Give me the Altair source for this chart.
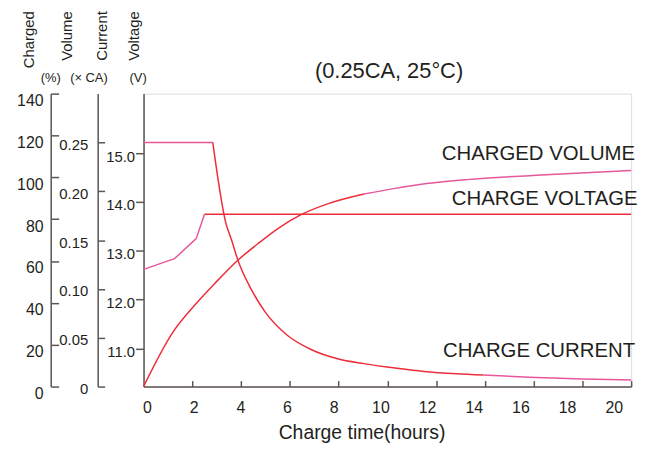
import altair as alt
import pandas as pd

# ---------------- data ----------------
# Charge current (x CA) vs time (hours)
cur_t = [0, 2.84, 3.07, 3.35, 3.61, 3.89, 4.43, 4.97, 5.92, 6.87, 7.96, 9.04,
         10.4, 11.5, 12.84, 13.93, 15.82, 18.0, 20.0]
cur_v = [0.25, 0.25, 0.21, 0.17, 0.150, 0.128, 0.099, 0.077, 0.052, 0.038,
         0.0285, 0.0235, 0.0187, 0.0155, 0.0131, 0.0118, 0.0096, 0.0078, 0.0068]
cur_breaks = [2.84, 13.93]
cur_cols = ["pink", "red", "pink"]

# Charged volume (%) vs time
chg_t = [0, 1.24, 2.06, 2.94, 3.89, 4.77, 5.51, 6.4, 7.55, 9.04, 10.26, 11.62,
         13.25, 16.1, 20.0]
chg_v = [0, 26.6, 38.4, 49.5, 60.6, 69.0, 75.5, 81.8, 87.3, 92.0, 94.6, 97.0,
         98.9, 101.0, 103.3]
chg_breaks = [9.04]
chg_cols = ["red", "pink"]

# Charge voltage (V) vs time
vol_t = [0, 1.27, 2.16, 2.50, 20.0]
vol_v = [12.62, 12.84, 13.25, 13.75, 13.75]
vol_breaks = [2.50]
vol_cols = ["pink", "red"]

x_ticks = [2, 4, 6, 8, 10, 12, 14, 16, 18, 20]
x_labels = [0, 2, 4, 6, 8, 10, 12, 14, 16, 18, 20]
chg_ticks = [0, 20, 40, 60, 80, 100, 120, 140]
cur_ticks = [0, 0.05, 0.10, 0.15, 0.20, 0.25]
vol_ticks = [11, 12, 13, 14, 15]

title_text = "(0.25CA, 25\u00b0C)"
curve_names = ["CHARGED VOLUME", "CHARGE VOLTAGE", "CHARGE CURRENT"]
unit_names = ["(%)", "(\u00d7 CA)", "(V)"]

PINK = "#e8579c"
RED = "#ee2d3b"
TXT = "#231f20"
AX = "#5b5553"
FONT = "Liberation Sans"


def segments(ts, vs, breaks, cols, name):
    rows = []
    edges = [ts[0]] + breaks + [ts[-1]]
    for i in range(len(edges) - 1):
        lo, hi = edges[i], edges[i + 1]
        for t, v in zip(ts, vs):
            if lo <= t <= hi:
                rows.append({"t": t, "v": v, "seg": f"{name}{i}", "col": cols[i]})
    return pd.DataFrame(rows)


df_cur = segments(cur_t, cur_v, cur_breaks, cur_cols, "cur")
df_chg = segments(chg_t, chg_v, chg_breaks, chg_cols, "chg")
df_vol = segments(vol_t, vol_v, vol_breaks, vol_cols, "vol")

color = alt.Color("col:N", scale=alt.Scale(domain=["pink", "red"], range=[PINK, RED]),
                  legend=None)
xs = alt.Scale(domain=[0, 20], nice=False, zero=False)

common_axis = dict(grid=False, domainColor=AX, tickColor=AX, domainWidth=1.5,
                   tickWidth=1.5, labelColor=TXT, labelFont=FONT, titleFont=FONT,
                   titleColor=TXT, titleFontWeight="normal")

TY = -83.5  # top of the rotated axis titles, relative to plot top

x_tick_axis = alt.Axis(orient="top", offset=-295, values=x_ticks, tickSize=6,
                       labels=False, title=None, **common_axis)

chg_line = alt.Chart(df_chg).mark_line(interpolate="monotone", strokeWidth=1.5).encode(
    x=alt.X("t:Q", scale=xs, axis=x_tick_axis),
    y=alt.Y("v:Q", scale=alt.Scale(domain=[0, 140], nice=False, zero=False),
            axis=alt.Axis(orient="right", offset=-584.5, values=chg_ticks, tickSize=8,
                          labelPadding=-15.7, labelAlign="right", labelOffset=7,
                          labelFontSize=16, title=["Charged", "Volume"], titleAngle=270,
                          titleAlign="right", titleBaseline="alphabetic", titleX=-17.2,
                          titleY=TY, titleLineHeight=38, titleFontSize=15,
                          **common_axis)),
    color=color, detail="seg:N")

cur_line = alt.Chart(df_cur).mark_line(interpolate="monotone", strokeWidth=1.5).encode(
    x=alt.X("t:Q", scale=xs, axis=None),
    y=alt.Y("v:Q", scale=alt.Scale(domain=[0, 0.30], nice=False, zero=False),
            axis=alt.Axis(orient="right", offset=-537.2, values=cur_ticks, tickSize=7,
                          labelPadding=-17, labelAlign="right", labelOffset=2,
                          labelFontSize=15,
                          labelExpr="datum.value == 0 ? '0' : format(datum.value, '.2f')",
                          title="Current", titleAngle=270, titleAlign="right",
                          titleBaseline="alphabetic", titleX=8.7, titleY=TY,
                          titleFontSize=15, **common_axis)),
    color=color, detail="seg:N")

vol_line = alt.Chart(df_vol).mark_line(strokeWidth=1.5).encode(
    x=alt.X("t:Q", scale=xs, axis=None),
    y=alt.Y("v:Q", scale=alt.Scale(domain=[10.22, 16.22], nice=False, zero=False),
            axis=alt.Axis(orient="left", values=vol_ticks, tickSize=8, labelPadding=1,
                          labelOffset=3, labelFontSize=15, format=".1f",
                          title="Voltage", titleAngle=270, titleAlign="right",
                          titleBaseline="alphabetic", titleX=-4.7, titleY=TY,
                          titleFontSize=15, **common_axis)),
    color=color, detail="seg:N")

# x-axis labels (printed on a slightly narrower spacing than the ticks)
x_lab = alt.Chart(pd.DataFrame({"h": x_labels})).mark_point(opacity=0).encode(
    x=alt.X("h:Q", scale=alt.Scale(domain=[-0.149, 20.745], nice=False, zero=False),
            axis=alt.Axis(orient="bottom", values=x_labels, ticks=False, domain=False,
                          labelPadding=13, labelFontSize=16, title="Charge time(hours)",
                          titleFontSize=19.5, titleX=219.5, titleY=52,
                          titleBaseline="alphabetic", titleAlign="center",
                          **{k: v for k, v in common_axis.items()
                             if k not in ("domainColor", "domainWidth")})),
    y=alt.value(0))

layers = [chg_line, cur_line, vol_line, x_lab]

# chart title
layers.append(alt.Chart(pd.DataFrame({"n": [title_text]})).mark_text(
    align="center", baseline="alphabetic", fontSize=22, font=FONT, color=TXT
).encode(text="n:N", x=alt.value(247.2), y=alt.value(-16)))

# curve names at the right
name_pos = [(495, 66.6), (497.5, 112.3), (495, 265.6)]
for nm, (px, py) in zip(curve_names, name_pos):
    layers.append(alt.Chart(pd.DataFrame({"n": [nm]})).mark_text(
        align="right", baseline="alphabetic", fontSize=20.5, font=FONT, color=TXT
    ).encode(text="n:N", x=alt.value(px), y=alt.value(py)))

# units above the axes
unit_pos = [(-93.5, -12), (-55, -12), (-5.5, -12)]
for un, (px, py) in zip(unit_names, unit_pos):
    layers.append(alt.Chart(pd.DataFrame({"u": [un]})).mark_text(
        align="center", baseline="alphabetic", fontSize=13, font=FONT, color=TXT
    ).encode(text="u:N", x=alt.value(px), y=alt.value(py)))

chart = alt.layer(*layers).resolve_scale(
    x="independent", y="independent", color="shared"
).properties(
    width=491, height=295,
    padding={"left": 136.5, "top": 84.7, "right": 20, "bottom": 58},
    autosize=alt.AutoSizeParams(type="none"),
).configure_view(stroke="#827c78", strokeWidth=1.6).configure(background="white")

chart.save("out.html", embed_options={"renderer": "svg", "actions": False})
